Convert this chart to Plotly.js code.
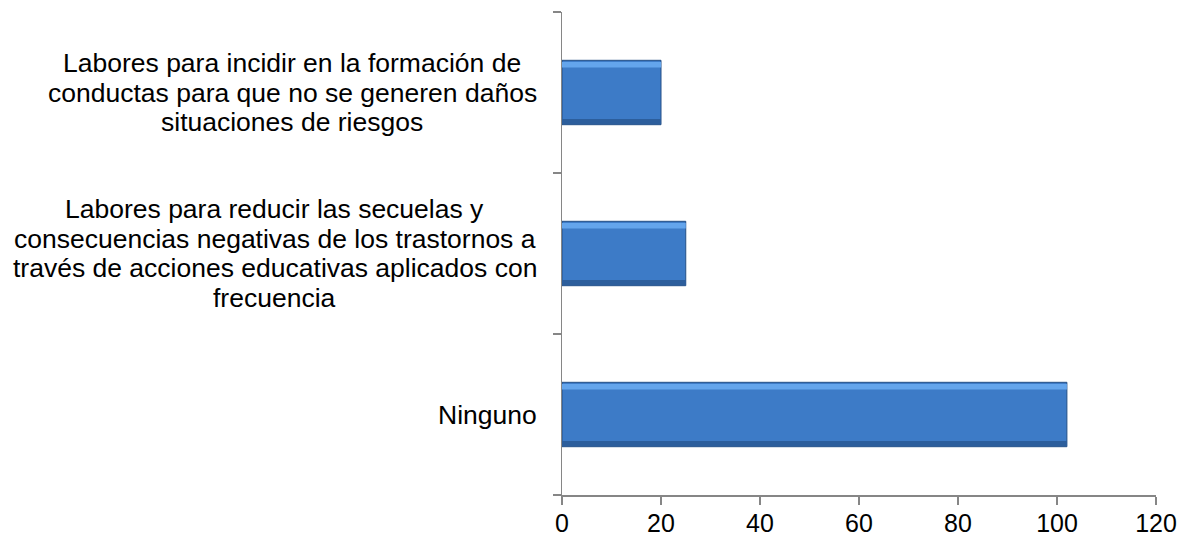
<!DOCTYPE html>
<html>
<head>
<meta charset="utf-8">
<script src="https://cdn.plot.ly/plotly-3.0.1.min.js"></script>
<style>
html,body{margin:0;padding:0;background:#fff;}
#chart{width:1192px;height:540px;}
</style>
</head>
<body>
<div id="chart"></div>
<script>
const categories = [
  "Ninguno",
  "Labores para reducir las secuelas y consecuencias negativas de los trastornos a través de acciones educativas aplicados con frecuencia",
  "Labores para incidir en la formación de conductas para que no se generen daños situaciones de riesgos"
];
const categoryLines = [
  ["Ninguno"],
  ["Labores para reducir las secuelas y", "consecuencias negativas de los trastornos a", "través de acciones educativas aplicados con", "frecuencia"],
  ["Labores para incidir en la formación de", "conductas para que no se generen daños", "situaciones de riesgos"]
];
const values = [102, 25, 20];
const xTicks = [0, 20, 40, 60, 80, 100, 120];

const axisColor = "#868686";
const fontFam = "Liberation Sans, Arial, sans-serif";
const labelSize = 26.5;
const lineGap = 29.5;

const traces = [
  {
    type: "bar", orientation: "h",
    y: categories, x: values, width: 0.4,
    marker: {color: "#3D7BC7", line: {color: "#244F85", width: 1}},
    hoverinfo: "x+y"
  },
  {
    type: "bar", orientation: "h",
    y: categories, x: values, width: 0.035, offset: 0.155,
    marker: {color: "#64A5EC", line: {width: 0}},
    hoverinfo: "skip"
  },
  {
    type: "bar", orientation: "h",
    y: categories, x: values, width: 0.03, offset: -0.195,
    marker: {color: "#2C5E9C", line: {width: 0}},
    hoverinfo: "skip"
  }
];

const ctx = document.createElement("canvas").getContext("2d");
ctx.font = labelSize + "px 'Liberation Sans'";

const annotations = [];
categories.forEach((c, ci) => {
  const lines = categoryLines[ci];
  const maxW = Math.max(...lines.map(l => ctx.measureText(l).width));
  const mid = (lines.length - 1) / 2;
  lines.forEach((l, i) => {
    annotations.push({
      xref: "paper", yref: "y",
      x: 0, y: c,
      xanchor: "center", yanchor: "middle",
      xshift: -(25 + maxW / 2),
      yshift: (mid - i) * lineGap,
      showarrow: false,
      text: l,
      font: {family: fontFam, size: labelSize, color: "#000"}
    });
  });
});

const layout = {
  width: 1192, height: 540,
  margin: {l: 562, r: 36, t: 12, b: 45},
  paper_bgcolor: "#fff", plot_bgcolor: "#fff",
  showlegend: false,
  barmode: "overlay",
  font: {family: fontFam, size: 25, color: "#000"},
  xaxis: {
    range: [0, 120],
    tickvals: xTicks,
    ticktext: xTicks.map(String),
    ticks: "outside", ticklen: 8, tickwidth: 1.5, tickcolor: axisColor,
    ticklabelstandoff: -3,
    showline: true, linecolor: axisColor, linewidth: 1.5,
    showgrid: false, zeroline: false,
    tickfont: {family: fontFam, size: 25, color: "#000"}
  },
  yaxis: {
    type: "category",
    categoryorder: "array", categoryarray: categories,
    range: [-0.5, 2.5],
    tickson: "boundaries",
    ticks: "outside", ticklen: 8, tickwidth: 1.5, tickcolor: axisColor,
    showline: true, linecolor: axisColor, linewidth: 1.5,
    showgrid: false, zeroline: false,
    showticklabels: false
  },
  annotations: annotations
};

Plotly.newPlot("chart", traces, layout, {staticPlot: true, displayModeBar: false});
</script>
</body>
</html>
